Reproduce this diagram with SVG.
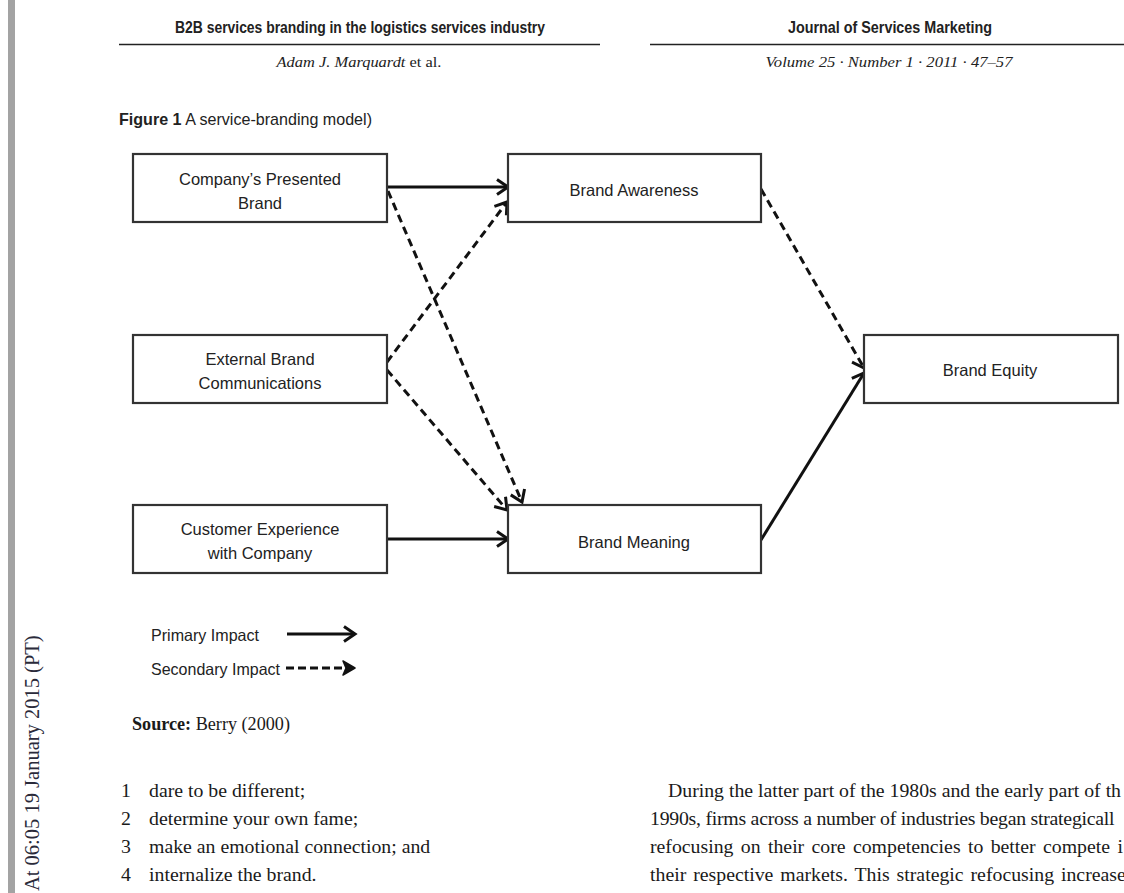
<svg xmlns="http://www.w3.org/2000/svg" width="1124" height="893" viewBox="0 0 1124 893">
  <defs>
    <marker id="chev" markerUnits="userSpaceOnUse" markerWidth="18" markerHeight="18" refX="14" refY="9" orient="auto">
      <path d="M3,1.5 L14,9 L3,16.5" fill="none" stroke="#111" stroke-width="3" stroke-linejoin="miter"/>
    </marker>
  </defs>
  <style>
    .box { fill: #fff; stroke: #333; stroke-width: 2.2; }
    .lbl { font-family: "Liberation Sans", Arial, sans-serif; font-size: 16.5px; fill: #222; text-anchor: middle; }
    .leg { font-family: "Liberation Sans", Arial, sans-serif; font-size: 16.5px; fill: #222; }
    .solid { fill: none; stroke: #111; stroke-width: 3; marker-end: url(#chev); }
    .dash { fill: none; stroke: #111; stroke-width: 3; stroke-dasharray: 8 5; marker-end: url(#chev); }
    .hdr { font-family: "Liberation Sans", Arial, sans-serif; font-weight: bold; font-size: 16px; fill: #222; text-anchor: middle; }
    .ital { font-family: "Liberation Serif", "Times New Roman", serif; font-style: italic; font-size: 15px; fill: #222; text-anchor: middle; }
    .body { font-family: "Liberation Serif", "Times New Roman", serif; font-size: 19.8px; fill: #1a1a1a; }
    .rule { stroke: #222; stroke-width: 1.6; }
  </style>

  <rect width="1124" height="893" fill="#fff"/>

  <!-- left margin bar and vertical download stamp -->
  <rect x="8" y="0" width="7" height="893" fill="#a3a3a3"/>
  <text transform="translate(39,891) rotate(-90)" font-family="Liberation Serif, Times New Roman, serif" font-size="20.5" fill="#2a2a3a">At 06:05 19 January 2015 (PT)</text>

  <!-- running header -->
  <text class="hdr" x="360" y="33" textLength="370" lengthAdjust="spacingAndGlyphs">B2B services branding in the logistics services industry</text>
  <line class="rule" x1="119" y1="44.5" x2="600" y2="44.5"/>
  <text class="ital" x="359" y="67" textLength="165" lengthAdjust="spacingAndGlyphs">Adam J. Marquardt <tspan font-style="normal">et al.</tspan></text>

  <text class="hdr" x="890" y="33" textLength="204" lengthAdjust="spacingAndGlyphs">Journal of Services Marketing</text>
  <line class="rule" x1="650" y1="44.5" x2="1124" y2="44.5"/>
  <text class="ital" x="889" y="67" textLength="247" lengthAdjust="spacingAndGlyphs">Volume 25 · Number 1 · 2011 · 47–57</text>

  <!-- figure caption -->
  <text x="119" y="125" font-family="Liberation Sans, Arial, sans-serif" font-size="17" fill="#222" textLength="253" lengthAdjust="spacingAndGlyphs"><tspan font-weight="bold">Figure 1</tspan> A service-branding model)</text>

  <!-- connectors -->
  <g id="connectors">
    <line class="solid" x1="387" y1="187" x2="508" y2="187"/>
    <line class="dash" x1="388" y1="191" x2="522" y2="502"/>
    <line class="dash" x1="387" y1="362" x2="507" y2="202"/>
    <line class="dash" x1="387" y1="370" x2="507" y2="510"/>
    <line class="solid" x1="387" y1="539" x2="508" y2="539"/>
    <line class="dash" x1="761" y1="189" x2="864" y2="368"/>
    <line class="solid" x1="761" y1="540" x2="864" y2="373"/>
  </g>

  <!-- nodes -->
  <g id="node-presented">
    <rect class="box" x="133" y="154" width="254" height="68"/>
    <text class="lbl" x="260" y="185">Company’s Presented</text>
    <text class="lbl" x="260" y="209">Brand</text>
  </g>
  <g id="node-external">
    <rect class="box" x="133" y="335" width="254" height="68"/>
    <text class="lbl" x="260" y="365">External Brand</text>
    <text class="lbl" x="260" y="389">Communications</text>
  </g>
  <g id="node-customer">
    <rect class="box" x="133" y="505" width="254" height="68"/>
    <text class="lbl" x="260" y="535">Customer Experience</text>
    <text class="lbl" x="260" y="559">with Company</text>
  </g>
  <g id="node-awareness">
    <rect class="box" x="508" y="154" width="253" height="68"/>
    <text class="lbl" x="634" y="196">Brand Awareness</text>
  </g>
  <g id="node-meaning">
    <rect class="box" x="508" y="505" width="253" height="68"/>
    <text class="lbl" x="634" y="548">Brand Meaning</text>
  </g>
  <g id="node-equity">
    <rect class="box" x="864" y="335" width="254" height="68"/>
    <text class="lbl" x="990" y="376">Brand Equity</text>
  </g>

  <!-- legend -->
  <g id="legend">
    <text class="leg" x="151" y="641" textLength="108" lengthAdjust="spacingAndGlyphs">Primary Impact</text>
    <line class="solid" x1="287" y1="634" x2="355" y2="634"/>
    <text class="leg" x="151" y="675" textLength="129" lengthAdjust="spacingAndGlyphs">Secondary Impact</text>
    <line x1="286" y1="668" x2="346" y2="668" stroke="#111" stroke-width="3" stroke-dasharray="8 4"/>
    <path d="M343,661 L355,668 L343,675 L346,668 Z" fill="#111" stroke="#111" stroke-width="1.5" stroke-linejoin="round"/>
  </g>

  <!-- source -->
  <text x="132" y="730" font-family="Liberation Serif, Times New Roman, serif" font-size="19" fill="#1a1a1a" textLength="158" lengthAdjust="spacingAndGlyphs"><tspan font-weight="bold">Source:</tspan> Berry (2000)</text>

  <!-- numbered list -->
  <g class="body">
    <text x="121" y="797">1</text><text x="149" y="797">dare to be different;</text>
    <text x="121" y="825">2</text><text x="149" y="825">determine your own fame;</text>
    <text x="121" y="853">3</text><text x="149" y="853">make an emotional connection; and</text>
    <text x="121" y="881">4</text><text x="149" y="881">internalize the brand.</text>
  </g>

  <!-- body paragraph (runs to the page edge) -->
  <g class="body">
    <text x="668" y="797" textLength="453">During the latter part of the 1980s and the early part of th</text>
    <text x="650" y="825" letter-spacing="-0.25">1990s, firms across a number of industries began strategicall</text>
    <text x="650" y="853" word-spacing="2.4">refocusing on their core competencies to better compete i</text>
    <text x="650" y="881" word-spacing="2">their respective markets. This strategic refocusing increase</text>
  </g>
</svg>
